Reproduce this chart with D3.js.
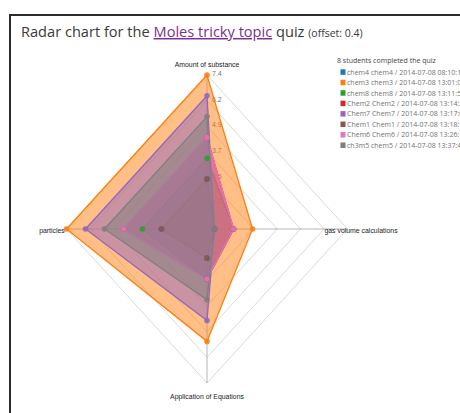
<!DOCTYPE html>
<html>
<head>
<meta charset="utf-8">
<script src="https://cdn.jsdelivr.net/npm/d3@7"></script>
<style>
  html, body { margin: 0; padding: 0; background: #fff; }
  svg { display: block; }
</style>
</head>
<body>
<svg id="chart" width="460" height="413"></svg>
<script>
// ---- data ----
const axesNames = ["Amount of substance", "particles", "Application of Equations", "gas volume calculations"];
const students = [
  "chem4 chem4 / 2014-07-08 08:10:12",
  "chem3 chem3 / 2014-07-08 13:01:02",
  "chem8 chem8 / 2014-07-08 13:11:51",
  "Chem2 Chem2 / 2014-07-08 13:14:27",
  "Chem7 Chem7 / 2014-07-08 13:17:05",
  "Chem1 Chem1 / 2014-07-08 13:18:13",
  "Chem6 Chem6 / 2014-07-08 13:26:18",
  "ch3m5 chem5 / 2014-07-08 13:37:46"
];
const chem4 = [2.4, 2.4, 1.4, 0.4];
const chem3 = [7.4, 7.4, 5.4, 2.4];
const chem8 = [3.4, 3.4, 2.4, 1.4];
const chem2 = [4.4, 4.4, 2.4, 1.4];
const chem7 = [6.4, 6.4, 4.4, 0.4];
const chem1 = [2.4, 2.4, 1.4, 0.4];
const chem6 = [4.4, 4.4, 2.4, 1.4];
const chem5 = [5.4, 5.4, 3.4, 0.4];
const seriesValues = [chem4, chem3, chem8, chem2, chem7, chem1, chem6, chem5];
const tickLabels = ["1.2", "2.5", "3.7", "4.9", "6.2", "7.4"];
const maxValue = 7.4;
const colors = ["#1f77b4", "#ff7f0e", "#2ca02c", "#d62728", "#9467bd", "#8c564b", "#e377c2", "#7f7f7f"];

// ---- layout ----
const svg = d3.select("#chart");
const cx = 207, cy = 229, Rx = 140.5, Ry = 154;
const rX = d3.scaleLinear().domain([0, maxValue]).range([0, Rx]);
const rY = d3.scaleLinear().domain([0, maxValue]).range([0, Ry]);
const nAxes = axesNames.length;
const angle = i => i * 2 * Math.PI / nAxes;
const px = (v, i) => cx - rX(v) * Math.sin(angle(i));
const py = (v, i) => cy - rY(v) * Math.cos(angle(i));

// frame
svg.append("rect").attr("x", 10).attr("y", 15).attr("width", 470).attr("height", 430)
  .attr("fill", "none").attr("stroke", "#2b2b2b").attr("stroke-width", 2);

// title
const title = svg.append("text").attr("x", 21).attr("y", 37)
  .style("font-family", "'Open Sans', sans-serif").style("font-size", "14.6px").attr("fill", "#3a3a3a");
title.append("tspan").text("Radar chart for the ");
title.append("tspan").text("Moles tricky topic").attr("fill", "#7d2e91").attr("text-decoration", "underline");
title.append("tspan").text(" quiz ");
title.append("tspan").text("(offset: 0.4)").style("font-size", "10.5px");

// grid levels
const levelVals = tickLabels.map((t, k) => maxValue * (k + 1) / tickLabels.length);
const grid = svg.append("g");
levelVals.forEach(lv => {
  for (let i = 0; i < nAxes; i++) {
    grid.append("line")
      .attr("x1", px(lv, i)).attr("y1", py(lv, i))
      .attr("x2", px(lv, (i + 1) % nAxes)).attr("y2", py(lv, (i + 1) % nAxes))
      .attr("stroke", "#cfcfcf").attr("stroke-width", 0.8);
  }
});
// tick labels
svg.append("g").selectAll("text").data(levelVals).join("text")
  .attr("x", cx + 5).attr("y", d => py(d, 0) + 1)
  .text((d, k) => tickLabels[k])
  .style("font-family", "'Liberation Sans', Arial, sans-serif").style("font-size", "7px")
  .attr("fill", "#737373");

// axes
const axG = svg.append("g");
axesNames.forEach((name, i) => {
  axG.append("line").attr("x1", cx).attr("y1", cy)
    .attr("x2", px(maxValue, i)).attr("y2", py(maxValue, i))
    .attr("stroke", "#b5b5b5").attr("stroke-width", 1);
});
const labelPos = [[207, 67], [52, 233], [207, 399], [361, 233]];
axG.selectAll("text.ax").data(axesNames).join("text").attr("class", "ax")
  .attr("x", (d, i) => labelPos[i][0]).attr("y", (d, i) => labelPos[i][1])
  .attr("text-anchor", "middle")
  .style("font-family", "'Liberation Sans', Arial, sans-serif").style("font-size", "6.9px")
  .attr("fill", "#222").text(d => d);

// polygons
const polyG = svg.append("g");
seriesValues.forEach((vals, s) => {
  const pts = vals.map((v, i) => [px(v, i), py(v, i)]);
  polyG.append("polygon")
    .attr("points", pts.map(p => p.join(",")).join(" "))
    .attr("fill", colors[s]).attr("fill-opacity", 0.5)
    .attr("stroke", colors[s]).attr("stroke-width", 1.3);
});
// nodes
const nodeG = svg.append("g");
seriesValues.forEach((vals, s) => {
  nodeG.selectAll(null).data(vals).join("circle")
    .attr("cx", (v, i) => px(v, i)).attr("cy", (v, i) => py(v, i))
    .attr("r", 2.8).attr("fill", colors[s]).attr("fill-opacity", 0.9);
});

// legend
const lg = svg.append("g");
lg.append("text").attr("x", 337).attr("y", 63).text("8 students completed the quiz")
  .style("font-family", "'Open Sans', sans-serif").style("font-size", "7px").attr("fill", "#444");
students.forEach((st, s) => {
  const y = 72.3 + s * 10.45;
  lg.append("rect").attr("x", 340.5).attr("y", y - 3).attr("width", 5).attr("height", 5.5).attr("fill", colors[s]);
  lg.append("text").attr("x", 347).attr("y", y + 2.3).text(st)
    .style("font-family", "'Open Sans', sans-serif").style("font-size", "7px").attr("fill", "#737373");
});
</script>
</body>
</html>
